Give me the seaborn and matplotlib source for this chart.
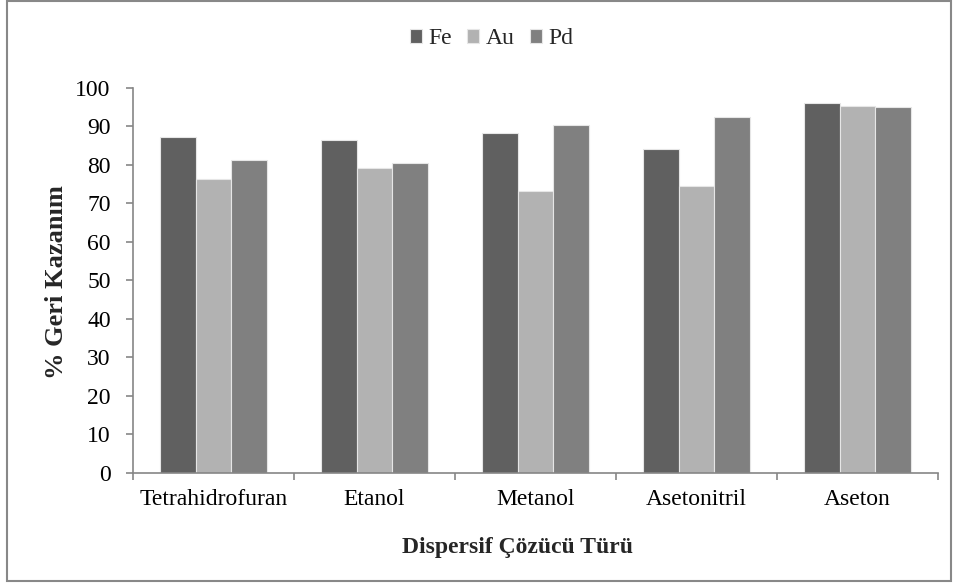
import matplotlib
matplotlib.use("Agg")
import matplotlib.pyplot as plt
import seaborn as sns
import pandas as pd
from matplotlib.patches import Rectangle

categories = ["Tetrahidrofuran", "Etanol", "Metanol", "Asetonitril", "Aseton"]
series_names = ["Fe", "Au", "Pd"]
fe_values = [87.2, 86.4, 88.2, 84.1, 96.0]
au_values = [76.2, 79.1, 73.2, 74.5, 95.2]
pd_values = [81.1, 80.4, 90.2, 92.4, 95.0]
y_ticks = [0, 10, 20, 30, 40, 50, 60, 70, 80, 90, 100]
colors = {"Fe": "#606060", "Au": "#b2b2b2", "Pd": "#808080"}

rows = []
for name, vals in zip(series_names, [fe_values, au_values, pd_values]):
    for c, v in zip(categories, vals):
        rows.append({"Çözücü": c, "Metal": name, "Değer": v})
df = pd.DataFrame(rows)

sns.set_theme(style="white")
plt.rcParams["font.family"] = ["Liberation Serif", "DejaVu Serif"]

fig = plt.figure(figsize=(9.58, 5.85), dpi=100)
ax = fig.add_axes([0.1388, 0.1923, 0.9791 - 0.1388, 0.8501 - 0.1923])

sns.barplot(data=df, x="Çözücü", y="Değer", hue="Metal", order=categories,
            hue_order=series_names, palette=colors, width=0.663, gap=0,
            edgecolor="#e6e6e6", linewidth=0.8, saturation=1, ax=ax,
            legend=True)

ax.set_ylim(0, 100)
ax.set_xlim(-0.5, len(categories) - 0.5)
ax.set_yticks(y_ticks)
ax.set_yticklabels([str(t) for t in y_ticks])
ax.set_xticks(range(len(categories)))
ax.set_xticklabels(categories)
ax.set_xticks([i - 0.5 for i in range(len(categories) + 1)], minor=True)
ax.tick_params(axis="x", which="major", length=0, pad=12, labelsize=17, colors="black")
ax.tick_params(axis="x", which="minor", length=5, width=1.2, color="#868686", direction="out", bottom=True)
ax.tick_params(axis="y", which="major", length=5, width=1.2, color="#868686", direction="out",
               left=True, pad=11, labelsize=17, labelcolor="black")

for side in ["top", "right"]:
    ax.spines[side].set_visible(False)
for side in ["left", "bottom"]:
    ax.spines[side].set_color("#868686")
    ax.spines[side].set_linewidth(1.2)

ax.set_xlabel("")
ax.set_ylabel("")
fig.text(0.0585, 1 - 282.5 / 585, "% Geri Kazanım", rotation=90, ha="center", va="center",
         fontsize=19, fontweight="bold")
fig.text(517 / 958, 1 - 548 / 585, "Dispersif Çözücü Türü", ha="center", va="center",
         fontsize=17, fontweight="bold")

handles, labels = ax.get_legend_handles_labels()
ax.legend(handles, labels, loc="center", bbox_to_anchor=(491.5 / 958, 1 - 39 / 585),
          bbox_transform=fig.transFigure, ncol=3, frameon=False, fontsize=17,
          handlelength=0.52, handleheight=0.52, handletextpad=0.26, columnspacing=0.65,
          borderaxespad=0, borderpad=0)

fig.patches.append(Rectangle((7 / 958, 1 - 581 / 585), (951 - 7) / 958, (581 - 1) / 585,
                             transform=fig.transFigure, fill=False,
                             edgecolor="#888888", linewidth=1.5))

fig.savefig("out.png", dpi=100)
